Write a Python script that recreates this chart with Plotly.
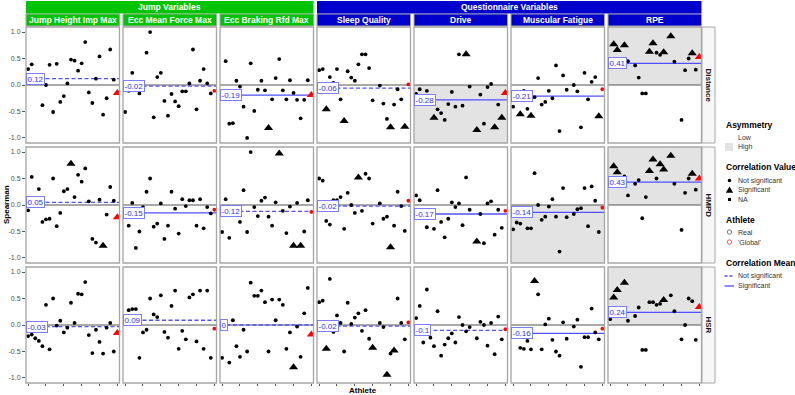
import plotly.graph_objects as go

# ---------------- data ----------------
ATHLETES = [f"Athlete {i:02d}" for i in range(1, 26)] + ["Global"]
ROWS = ["Distance", "HMPD", "HSR"]
COLS = ["Jump Height Imp Max", "Ecc Mean Force Max", "Ecc Braking Rfd Max",
        "Sleep Quality", "Drive", "Muscular Fatigue", "RPE"]
GROUPS = ["Jump Variables", "Questionnaire Variables"]
GROUP_COLS = [[0, 1, 2], [3, 4, 5, 6]]

N = None
# Distance
DIST_JHIM = [0.30, 0.39, N, N, -0.38, 0.00, 0.38, -0.51, 0.40, -0.32, -0.21, 0.03, 0.48, 0.46, 0.27, 0.41, 0.81, -0.14, -0.34, 0.12, 0.54, -0.56, -0.25, 0.67, 0.10]
DIST_EMFM = [-0.51, -0.11, 0.23, N, -0.16, N, 0.61, 1.00, -0.61, 0.15, 0.23, -0.30, -0.58, -0.17, -0.31, -0.40, -0.12, -0.12, 0.03, 0.67, -0.46, 0.08, 0.30, 0.03, -0.16]
DIST_EBRM = [N, 0.45, -0.73, -0.72, 0.08, -0.03, -0.41, -1.00, 0.41, -0.49, -0.09, 0.08, -0.10, -0.81, -0.27, 0.13, 0.49, -0.10, -0.27, 0.09, -0.15, -0.28, -0.63, -0.28, 0.09]
DIST_SQ = [0.28, 0.30, -0.46, 0.15, 0.04, 0.30, -0.27, -0.68, 0.26, 0.14, 0.08, 0.39, 0.58, 0.58, 0.32, -0.29, N, -0.01, -0.35, -0.64, -0.80, -0.37, -0.08, -0.27, -0.79]
DIST_DRIVE = [-0.17, -0.08, N, -0.11, N, -0.62, -0.46, -0.53, -0.66, -0.36, -0.13, -0.41, 0.58, -0.39, 0.58, -0.03, N, -0.85, -0.18, -0.73, -0.04, 0.02, -0.80, -0.37, -0.62]
DIST_MF = [-0.41, N, -0.55, -0.11, -0.45, -0.58, -0.23, 0.13, -0.37, -0.32, -0.11, -0.25, 0.37, -0.87, 0.18, -0.09, N, 0.00, -0.12, -0.80, 0.23, -0.27, 0.06, 0.15, -0.59]
DIST_RPE = [N, 0.77, 0.66, N, 0.75, 0.45, N, 0.37, 0.14, -0.16, -0.16, 0.63, 0.79, 0.61, 0.57, 0.62, N, 0.92, 0.44, N, -0.66, 0.28, 0.50, 0.60, 0.29]
# HMPD
HMPD_JHIM = [-0.10, 0.53, N, 0.30, -0.32, -0.27, -0.26, 0.50, -0.40, -0.15, 0.26, 0.30, 0.78, 0.15, 0.57, 0.44, 0.69, 0.07, -0.64, -0.71, 0.10, -0.77, -0.18, 0.34, 0.08]
HMPD_EMFM = [N, -0.39, 0.04, -0.81, -0.50, -0.04, 0.25, 0.50, -0.41, -0.35, 0.03, -0.64, -0.39, 0.25, -0.07, -0.54, 0.11, -0.02, 0.09, 0.09, -0.39, 0.11, -0.44, -0.04, -0.16]
HMPD_EBRM = [-0.51, 0.11, -0.62, N, N, -0.32, 0.28, -0.51, 1.00, -0.04, -0.21, 0.08, 0.14, -0.22, -0.39, 0.05, 0.97, -0.11, -0.53, -0.03, -0.77, 0.04, -0.77, -0.50, 0.09]
HMPD_SQ = [0.50, 0.46, -0.30, -0.37, 0.09, 0.09, 0.15, -0.45, 0.23, 0.00, -0.15, 0.52, -0.11, 0.59, 0.50, -0.35, N, 0.03, -0.26, -0.22, -0.80, -0.39, 0.25, -0.02, -0.49]
HMPD_DRIVE = [0.18, 0.09, N, -0.42, N, -0.45, 0.28, -0.32, -0.61, -0.26, 0.05, -0.04, 0.03, -0.38, 0.52, -0.09, N, -0.69, -0.17, -0.72, 0.03, 0.07, -0.56, -0.09, -0.43]
HMPD_MF = [-0.46, -0.33, -0.35, N, -0.44, -0.44, 0.60, 0.00, -0.28, -0.22, -0.03, 0.11, -0.22, -0.88, 0.32, -0.23, N, -0.17, -0.08, -0.06, 0.32, -0.40, 0.35, 0.08, -0.51]
HMPD_RPE = [N, 0.73, 0.62, N, 0.54, 0.18, N, 0.40, 0.47, -0.25, 0.15, 0.64, 0.86, 0.50, 0.77, 0.67, N, 0.93, 0.40, N, -0.47, 0.23, 0.50, 0.59, 0.29]
# HSR
HSR_JHIM = [-0.21, -0.18, -0.25, -0.30, -0.40, 0.38, -0.46, 0.50, -0.01, 0.08, -0.14, -0.05, 0.42, 0.04, 0.59, 0.58, 0.81, -0.19, -0.53, -0.09, -0.32, -0.54, -0.05, 0.04, -0.50]
HSR_EMFM = [N, 0.28, 0.30, 0.30, -0.62, -0.14, -0.09, 0.50, 0.20, 0.15, 0.56, -0.13, -0.24, 0.36, 0.65, -0.45, -0.11, -0.27, 0.52, 0.58, -0.31, 0.65, -0.45, 0.65, -0.62]
HSR_EBRM = [-0.62, N, -0.71, 0.09, -0.40, -0.60, -0.09, -0.50, 0.80, 0.55, 0.55, 0.65, 0.43, -0.50, 0.48, 0.09, 0.48, 0.38, -0.45, -0.14, -0.80, -0.03, -0.60, 0.22, 0.70]
HSR_SQ = [0.43, 0.46, -0.45, 0.87, -0.13, 0.18, 0.04, -0.50, 0.42, 0.02, 0.14, 0.22, -0.11, 0.28, -0.26, -0.43, N, 0.04, -0.04, -0.94, -0.54, -0.48, 0.50, 0.04, -0.27]
HSR_DRIVE = [0.13, 0.36, -0.33, 0.67, -0.24, -0.40, 0.26, -0.58, -0.37, -0.25, -0.16, -0.33, 0.15, 0.00, -0.12, -0.04, N, -0.25, 0.06, 0.00, -0.39, 0.04, -0.55, 0.16, -0.27]
HSR_MF = [N, N, -0.43, -0.45, -0.30, -0.46, 0.83, 0.58, -0.46, 0.01, 0.12, -0.28, -0.50, -0.58, 0.05, -0.26, N, -0.03, 0.10, -0.79, -0.23, -0.23, 0.31, -0.14, -0.27]
HSR_RPE = [0.11, 0.52, 0.66, N, 0.80, 0.08, N, 0.17, 0.33, -0.47, -0.47, 0.43, 0.43, 0.38, 0.40, 0.47, N, 0.56, 0.26, N, -0.27, 0.00, 0.50, 0.45, -0.28]

# indices of athletes with significant correlation
SIG_DIST = [[], [], [13], [2, 7, 20, 24], [5, 14, 17, 22, 24], [2, 5, 24], [1, 2, 4, 11, 12, 15, 17, 23]]
SIG_HMPD = [[12, 21], [], [16, 20, 22], [11, 20], [17], [], [1, 2, 11, 12, 14, 15, 17, 23]]
SIG_HSR = [[], [], [20], [2, 15, 19, 21], [], [6], [1, 2, 4, 15]]

GLOBAL_DIST = [-0.15, -0.11, -0.19, 0.01, -0.15, -0.08, 0.53]
GLOBAL_HMPD = [-0.23, -0.09, -0.13, 0.08, -0.11, -0.05, 0.50]
GLOBAL_HSR = [-0.15, -0.07, -0.18, 0.05, -0.08, -0.07, 0.34]
GLOBAL_SIG_DIST = [True, False, True, False, True, False, True]
GLOBAL_SIG_HMPD = [True, False, False, False, False, False, True]
GLOBAL_SIG_HSR = [True, False, True, False, False, False, True]

MEAN_DIST = [0.12, -0.02, -0.19, -0.06, -0.28, -0.21, 0.41]
MEAN_HMPD = [0.05, -0.15, -0.12, -0.02, -0.17, -0.14, 0.43]
MEAN_HSR = [-0.03, 0.09, 0, -0.02, -0.1, -0.16, 0.24]
MEAN_SIG_DIST = [False, False, True, False, True, True, True]
MEAN_SIG_HMPD = [False, True, False, False, True, True, True]
MEAN_SIG_HSR = [False, False, False, False, False, True, True]

ASYM_DIST = ["Low", "Low", "Low", "Low", "High", "Low", "High"]
ASYM_HMPD = ["Low", "Low", "Low", "Low", "Low", "High", "High"]
ASYM_HSR = ["Low", "Low", "Low", "Low", "Low", "Low", "High"]

VALUES = [[DIST_JHIM, DIST_EMFM, DIST_EBRM, DIST_SQ, DIST_DRIVE, DIST_MF, DIST_RPE],
          [HMPD_JHIM, HMPD_EMFM, HMPD_EBRM, HMPD_SQ, HMPD_DRIVE, HMPD_MF, HMPD_RPE],
          [HSR_JHIM, HSR_EMFM, HSR_EBRM, HSR_SQ, HSR_DRIVE, HSR_MF, HSR_RPE]]
SIGS = [SIG_DIST, SIG_HMPD, SIG_HSR]
GLOBALS = [GLOBAL_DIST, GLOBAL_HMPD, GLOBAL_HSR]
GLOBAL_SIGS = [GLOBAL_SIG_DIST, GLOBAL_SIG_HMPD, GLOBAL_SIG_HSR]
MEANS = [MEAN_DIST, MEAN_HMPD, MEAN_HSR]
MEAN_SIGS = [MEAN_SIG_DIST, MEAN_SIG_HMPD, MEAN_SIG_HSR]
ASYMS = [ASYM_DIST, ASYM_HMPD, ASYM_HSR]

# ---------------- layout helpers ----------------
W, H = 795, 395
FONT = "Liberation Sans, Arial, Helvetica, sans-serif"
GREEN, BLUE = "#00C400", "#0000CD"
GROUP_COLOR = [GREEN, BLUE]
COL_COLOR = [GREEN, GREEN, GREEN, BLUE, BLUE, BLUE, BLUE]
BORDER = "#A6A6A6"
MEANCOL = "#5050FF"
YR = 1.095


def px(x):
    return x / W


def py(y):
    return 1 - y / H


L0, DX, PW = 26, 97, 93.5
T0, DY, PH = 27, 120, 116

fig = go.Figure()
layout = dict(width=W, height=H, autosize=False, margin=dict(l=0, r=0, t=0, b=0),
              paper_bgcolor="white", plot_bgcolor="white", showlegend=False,
              font=dict(family=FONT, size=8, color="#333333"))
shapes, annotations = [], []

for r in range(3):
    for c in range(7):
        k = r * 7 + c + 1
        xs = "x" if k == 1 else f"x{k}"
        ys = "y" if k == 1 else f"y{k}"
        xa = "xaxis" if k == 1 else f"xaxis{k}"
        ya = "yaxis" if k == 1 else f"yaxis{k}"
        x0 = L0 + DX * c
        y0 = T0 + DY * r
        layout[xa] = dict(domain=[px(x0), px(x0 + PW)], anchor=ys, type="category",
                          categoryorder="array", categoryarray=ATHLETES,
                          range=[-0.6, len(ATHLETES) - 0.4], showgrid=False, zeroline=False,
                          showline=False, showticklabels=False,
                          ticks="outside" if r == 2 else "", ticklen=2, tickwidth=0.6,
                          tickcolor="#555555", fixedrange=True)
        layout[ya] = dict(domain=[py(y0 + PH), py(y0)], anchor=xs, range=[-YR, YR],
                          showgrid=False, zeroline=False, showline=False,
                          tickmode="array", tickvals=[-1, -0.5, 0, 0.5, 1],
                          ticktext=["-1.0", "-0.5", "0.0", "0.5", "1.0"],
                          showticklabels=(c == 0), ticks="outside" if c == 0 else "",
                          ticklen=3, tickwidth=0.6, tickcolor="#555555",
                          tickfont=dict(size=7, color="#4D4D4D", family=FONT), fixedrange=True)

        mean = MEANS[r][c]
        # asymmetry shading
        if ASYMS[r][c] == "High":
            shapes.append(dict(type="rect", xref=f"{xs} domain", yref=ys, x0=0, x1=1,
                               y0=0, y1=YR if mean > 0 else -YR, fillcolor="#E3E3E3",
                               line=dict(width=0), layer="below"))
        # zero line
        shapes.append(dict(type="line", xref=f"{xs} domain", yref=ys, x0=0, x1=1, y0=0, y1=0,
                           line=dict(color="#555555", width=1.1), layer="below"))
        # mean line
        shapes.append(dict(type="line", xref=f"{xs} domain", yref=ys, x0=0, x1=1, y0=mean, y1=mean,
                           line=dict(color=MEANCOL, width=1.3,
                                     dash="solid" if MEAN_SIGS[r][c] else "4px,2.5px"),
                           layer="below"))
        # panel border
        shapes.append(dict(type="rect", xref=f"{xs} domain", yref=f"{ys} domain", x0=0, x1=1,
                           y0=0, y1=1, line=dict(color=BORDER, width=1.3), layer="above"))

        vals = VALUES[r][c]
        sig = SIGS[r][c]
        dx = [ATHLETES[i] for i, v in enumerate(vals) if v is not None and i not in sig]
        dy = [v for i, v in enumerate(vals) if v is not None and i not in sig]
        tx = [ATHLETES[i] for i, v in enumerate(vals) if v is not None and i in sig]
        ty = [v for i, v in enumerate(vals) if v is not None and i in sig]
        fig.add_trace(go.Scatter(x=dx, y=dy, xaxis=xs, yaxis=ys, mode="markers",
                                 marker=dict(symbol="circle", size=3.8, color="black",
                                             line=dict(width=0)), hoverinfo="skip"))
        fig.add_trace(go.Scatter(x=tx, y=ty, xaxis=xs, yaxis=ys, mode="markers",
                                 marker=dict(symbol="triangle-up", size=8, color="black",
                                             line=dict(width=0)), hoverinfo="skip"))
        gs = GLOBAL_SIGS[r][c]
        fig.add_trace(go.Scatter(x=["Global"], y=[GLOBALS[r][c]], xaxis=xs, yaxis=ys,
                                 mode="markers",
                                 marker=dict(symbol="triangle-up" if gs else "circle",
                                             size=8 if gs else 3.8, color="#FF0000",
                                             line=dict(width=0)), hoverinfo="skip"))
        # mean label
        annotations.append(dict(xref=f"{xs} domain", yref=ys, x=0, y=mean, xanchor="left",
                                yanchor="middle", text=f"{mean:g}", showarrow=False,
                                font=dict(size=8, color="#3030F0", family=FONT),
                                bgcolor="white", bordercolor="#7C7CFF", borderwidth=1,
                                borderpad=0.5))

# column strips
for c in range(7):
    x0 = L0 + DX * c
    shapes.append(dict(type="rect", xref="paper", yref="paper", x0=px(x0), x1=px(x0 + PW),
                       y0=py(26), y1=py(14), fillcolor=COL_COLOR[c],
                       line=dict(color=BORDER, width=1), layer="above"))
    annotations.append(dict(xref="paper", yref="paper", x=px(x0 + PW / 2), y=py(20.3),
                            text=f"<b>{COLS[c]}</b>", showarrow=False, xanchor="center",
                            yanchor="middle", font=dict(size=8.5, color="white", family=FONT)))
# group strips
for g, cols in enumerate(GROUP_COLS):
    gx0 = L0 + DX * cols[0]
    gx1 = L0 + DX * cols[-1] + PW
    shapes.append(dict(type="rect", xref="paper", yref="paper", x0=px(gx0), x1=px(gx1),
                       y0=py(13.5), y1=py(1), fillcolor=GROUP_COLOR[g],
                       line=dict(width=0), layer="above"))
    annotations.append(dict(xref="paper", yref="paper", x=px((gx0 + gx1) / 2), y=py(7.3),
                            text=f"<b>{GROUPS[g]}</b>", showarrow=False, xanchor="center",
                            yanchor="middle", font=dict(size=8.5, color="white", family=FONT)))
# row strips
for r in range(3):
    y0 = T0 + DY * r
    sx0 = L0 + DX * 6 + PW + 0.5
    shapes.append(dict(type="rect", xref="paper", yref="paper", x0=px(sx0), x1=px(sx0 + 13),
                       y0=py(y0 + PH), y1=py(y0), fillcolor="#F7F7F7",
                       line=dict(color=BORDER, width=1), layer="above"))
    annotations.append(dict(xref="paper", yref="paper", x=px(sx0 + 6.5), y=py(y0 + PH / 2),
                            text=f"<b>{ROWS[r]}</b>", showarrow=False, textangle=90,
                            xanchor="center", yanchor="middle",
                            font=dict(size=8, color="#1A1A1A", family=FONT)))

# axis titles
annotations.append(dict(xref="paper", yref="paper", x=px(6), y=py(205), text="<b>Spearman</b>",
                        showarrow=False, textangle=-90, xanchor="center", yanchor="middle",
                        font=dict(size=8, color="black", family=FONT)))
annotations.append(dict(xref="paper", yref="paper", x=px(363), y=py(390.5), text="<b>Athlete</b>",
                        showarrow=False, xanchor="center", yanchor="middle",
                        font=dict(size=8, color="black", family=FONT)))

# ---------------- legend (drawn manually) ----------------
LX = 724


def leg_title(text, y):
    annotations.append(dict(xref="paper", yref="paper", x=px(LX), y=py(y), text=f"<b>{text}</b>",
                            showarrow=False, xanchor="left", yanchor="middle",
                            font=dict(size=8.5, color="black", family=FONT)))


def leg_text(text, y):
    annotations.append(dict(xref="paper", yref="paper", x=px(736), y=py(y), text=text,
                            showarrow=False, xanchor="left", yanchor="middle",
                            font=dict(size=7, color="#333333", family=FONT)))


leg_title("Asymmetry", 125)
leg_text("Low", 137)
leg_text("High", 147)
shapes.append(dict(type="rect", xref="paper", yref="paper", x0=px(725), x1=px(733),
                   y0=py(151), y1=py(143), fillcolor="#E3E3E3", line=dict(width=0)))

leg_title("Correlation Value", 167)
leg_text("Not significant", 180.5)
leg_text("Significant", 190)
leg_text("NA", 199.5)
shapes.append(dict(type="circle", xref="paper", yref="paper", x0=px(727.7), x1=px(731.3),
                   y0=py(182.3), y1=py(178.7), fillcolor="black", line=dict(width=0)))
shapes.append(dict(type="path", xref="paper", yref="paper",
                   path=f"M {px(725.8)},{py(192.8)} L {px(733.2)},{py(192.8)} L {px(729.5)},{py(186.6)} Z",
                   fillcolor="black", line=dict(width=0)))
shapes.append(dict(type="rect", xref="paper", yref="paper", x0=px(728), x1=px(731),
                   y0=py(201), y1=py(198), fillcolor="black", line=dict(width=0)))

leg_title("Athlete", 220)
leg_text("Real", 232)
leg_text("'Global'", 242)
shapes.append(dict(type="circle", xref="paper", yref="paper", x0=px(727.3), x1=px(731.7),
                   y0=py(234.2), y1=py(229.8), line=dict(color="#555555", width=0.8)))
shapes.append(dict(type="circle", xref="paper", yref="paper", x0=px(727.3), x1=px(731.7),
                   y0=py(244.2), y1=py(239.8), line=dict(color="#FF3030", width=0.8)))

leg_title("Correlation Mean", 263)
leg_text("Not significant", 276)
leg_text("Significant", 286)
shapes.append(dict(type="line", xref="paper", yref="paper", x0=px(724.5), x1=px(734),
                   y0=py(276), y1=py(276), line=dict(color=MEANCOL, width=1.3, dash="3px,2px")))
shapes.append(dict(type="line", xref="paper", yref="paper", x0=px(724.5), x1=px(734),
                   y0=py(286), y1=py(286), line=dict(color=MEANCOL, width=1.3)))

layout["shapes"] = shapes
layout["annotations"] = annotations
fig.update_layout(**layout)
fig.write_html("out.html")
